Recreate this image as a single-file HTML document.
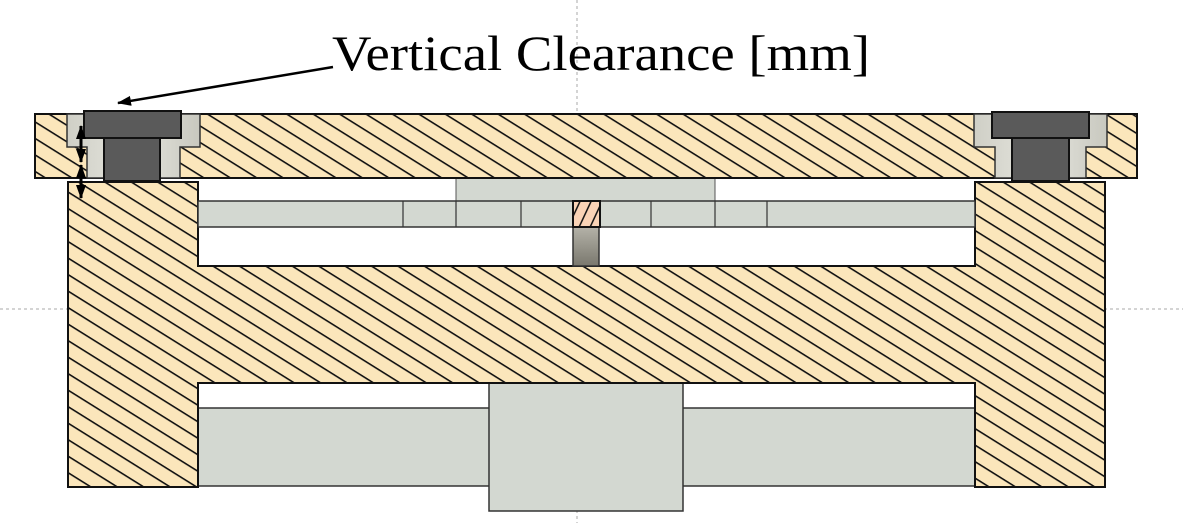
<!DOCTYPE html>
<html><head><meta charset="utf-8"><style>html,body{margin:0;padding:0;background:#fff}svg{display:block}</style></head>
<body>
<svg width="1183" height="523" viewBox="0 0 1183 523" xmlns="http://www.w3.org/2000/svg">
<defs>
<pattern id="hatch" patternUnits="userSpaceOnUse" width="14" height="14" patternTransform="rotate(32)">
<rect width="14" height="14" fill="#fbe6bb"/>
<line x1="0" y1="0.8" x2="14" y2="0.8" stroke="#111" stroke-width="1.6"/>
</pattern>
<pattern id="hatch2" patternUnits="userSpaceOnUse" width="10" height="10" patternTransform="rotate(25)">
<rect width="10" height="10" fill="#f9d3b6"/>
<line x1="0.8" y1="0" x2="0.8" y2="10" stroke="#111" stroke-width="1.5"/>
</pattern>
<linearGradient id="post" x1="0" y1="0" x2="0" y2="1"><stop offset="0" stop-color="#b4b2a8"/><stop offset="1" stop-color="#7a786e"/></linearGradient>
<linearGradient id="cb" x1="0" y1="0" x2="1" y2="0"><stop offset="0" stop-color="#cfcfc6"/><stop offset="0.5" stop-color="#e6e6df"/><stop offset="1" stop-color="#c8c8bf"/></linearGradient>
<marker id="ah" markerWidth="14" markerHeight="10" refX="13" refY="5" orient="auto-start-reverse" markerUnits="userSpaceOnUse"><path d="M0,0 L14,5 L0,10 Z" fill="#000"/></marker>
</defs>

<line x1="577" y1="0" x2="577" y2="523" stroke="#aaa" stroke-width="1" stroke-dasharray="3,3"/>
<line x1="0" y1="309" x2="1183" y2="309" stroke="#aaa" stroke-width="1" stroke-dasharray="3,3"/>

<rect x="198" y="408" width="777" height="78" fill="#d3d8d1" stroke="#333" stroke-width="1.5"/>
<rect x="489" y="383" width="194" height="128" fill="#d3d8d1" stroke="#333" stroke-width="1.5"/>

<path d="M68,182 H198 V266 H975 V182 H1105 V487 H975 V383 H198 V487 H68 Z" fill="url(#hatch)" stroke="#111" stroke-width="2"/>

<rect x="456" y="177" width="259" height="24" fill="#d3d8d1" stroke="#555" stroke-width="1"/>
<rect x="198" y="201" width="777" height="26" fill="#d3d8d1" stroke="#333" stroke-width="1.5"/>
<g stroke="#333" stroke-width="1.2">
<line x1="403" y1="201" x2="403" y2="227"/><line x1="456" y1="201" x2="456" y2="227"/><line x1="521" y1="201" x2="521" y2="227"/><line x1="651" y1="201" x2="651" y2="227"/><line x1="715" y1="201" x2="715" y2="227"/><line x1="767" y1="201" x2="767" y2="227"/>
</g>
<rect x="573" y="227" width="26" height="39" fill="url(#post)" stroke="#333" stroke-width="1.5"/>
<rect x="573" y="201" width="27" height="26" fill="url(#hatch2)" stroke="#111" stroke-width="2"/>

<path d="M35,114 H1137 V178 H35 Z" fill="url(#hatch)" stroke="#111" stroke-width="2"/>
<path d="M67,114 H200 V147 H180 V178 H87 V147 H67 Z" fill="url(#cb)" stroke="#333" stroke-width="1.5"/>
<path d="M974,114 H1107 V147 H1086 V178 H995 V147 H974 Z" fill="url(#cb)" stroke="#333" stroke-width="1.5"/>
<rect x="84" y="111" width="97" height="27" fill="#5a5a5a" stroke="#111" stroke-width="2"/>
<rect x="104" y="138" width="56" height="43" fill="#5a5a5a" stroke="#111" stroke-width="2"/>
<rect x="992" y="112" width="97" height="26" fill="#5a5a5a" stroke="#111" stroke-width="2"/>
<rect x="1012" y="138" width="57" height="43" fill="#5a5a5a" stroke="#111" stroke-width="2"/>

<g stroke="#000" stroke-width="3">
<line x1="81" y1="126" x2="81" y2="162" marker-start="url(#ah)" marker-end="url(#ah)"/>
<line x1="81" y1="165" x2="81" y2="198" marker-start="url(#ah)" marker-end="url(#ah)"/>
</g>

<line x1="333" y1="67" x2="118" y2="103" stroke="#000" stroke-width="2.5" marker-end="url(#ah)"/>
<text x="332" y="70" font-family="Liberation Serif, serif" font-size="50" textLength="538" lengthAdjust="spacingAndGlyphs" fill="#000">Vertical Clearance [mm]</text>
</svg>
</body></html>
